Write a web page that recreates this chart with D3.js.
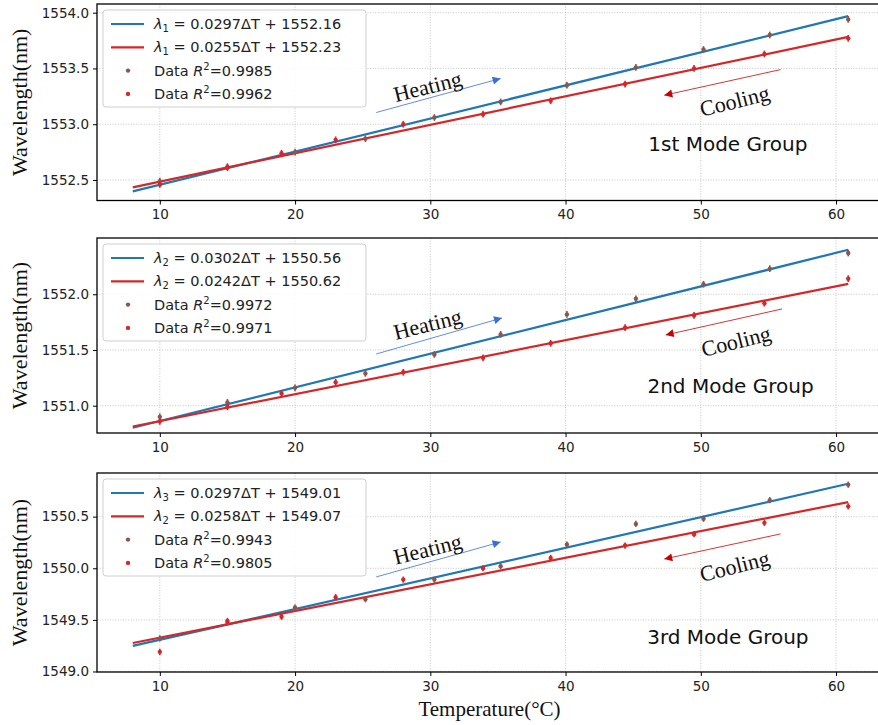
<!DOCTYPE html>
<html>
<head>
<meta charset="utf-8">
<script src="https://cdn.jsdelivr.net/npm/d3@7"></script>
<style>
  body { margin: 0; background: #fff; }
  svg { display: block; }
  .tick text { font-family: "DejaVu Sans", sans-serif; font-size: 13.5px; fill: #222; }
  .tick line { stroke: #000; }
  .domain { display: none; }
</style>
</head>
<body>
<div id="chart"></div>
<script>
// Figure size
var svgWidth = 878;
var svgHeight = 725;

// Temperatures (°C) of the heating and cooling runs
var heatTemp = [10, 15, 20, 25.2, 30.3, 35.2, 40.1, 45.2, 50.2, 55.1, 60.9];
var coolTemp = [10, 15, 19, 23, 28, 33.9, 38.9, 44.4, 49.5, 54.7, 60.9];

// Measured wavelengths (nm) per mode group
var heat1 = [1552.49, 1552.62, 1552.75, 1552.87, 1553.06, 1553.20, 1553.35, 1553.51, 1553.67, 1553.80, 1553.94];
var cool1 = [1552.46, 1552.61, 1552.74, 1552.86, 1553.00, 1553.09, 1553.21, 1553.36, 1553.50, 1553.63, 1553.77];
var heat2 = [1550.90, 1551.03, 1551.16, 1551.29, 1551.46, 1551.64, 1551.82, 1551.96, 1552.09, 1552.23, 1552.37];
var cool2 = [1550.86, 1550.99, 1551.11, 1551.21, 1551.30, 1551.43, 1551.56, 1551.70, 1551.81, 1551.92, 1552.14];
var heat3 = [1549.32, 1549.49, 1549.62, 1549.70, 1549.89, 1550.02, 1550.23, 1550.43, 1550.48, 1550.66, 1550.81];
var cool3 = [1549.19, 1549.48, 1549.53, 1549.72, 1549.89, 1550.00, 1550.10, 1550.22, 1550.33, 1550.44, 1550.60];
var errBar = 0.03;

// Linear fits (slope, intercept)
var heatSlope = [0.0297, 0.0302, 0.0297];
var heatIcpt = [1552.16, 1550.56, 1549.01];
var coolSlope = [0.0255, 0.0242, 0.0258];
var coolIcpt = [1552.23, 1550.62, 1549.07];
var fitRange = [8, 60.9];

// Legend texts
var lambdaSub = [["1", "1"], ["2", "2"], ["3", "2"]];
var r2Heat = ["0.9985", "0.9972", "0.9943"];
var r2Cool = ["0.9962", "0.9971", "0.9805"];
var groupNames = ["1st Mode Group", "2nd Mode Group", "3rd Mode Group"];

// Axis ranges and ticks
var xDomain = [5.355, 63.545];
var xTicks = [10, 20, 30, 40, 50, 60];
var yDomains = [[1552.316, 1554.078], [1550.755, 1552.505], [1548.995, 1550.923]];
var yTicks = [[1552.5, 1553.0, 1553.5, 1554.0], [1551.0, 1551.5, 1552.0], [1549.0, 1549.5, 1550.0, 1550.5]];

// Annotation positions in data coordinates: [x, y]
var heatArrow = [[[26.0, 1553.105], [35.2, 1553.41]], [[26.0, 1551.464], [35.3, 1551.787]], [[26.0, 1549.916], [35.2, 1550.255]]];
var coolArrow = [[[55.9, 1553.49], [47.3, 1553.26]], [[56.0, 1551.868], [47.4, 1551.635]], [[55.9, 1550.333], [47.3, 1550.09]]];
var heatLabel = [[29.8, 1553.34], [29.8, 1551.733], [29.8, 1550.187]];
var coolLabel = [[52.5, 1553.21], [52.6, 1551.58], [52.5, 1550.023]];
var groupLabel = [[52.0, 1552.82], [52.2, 1551.177], [52.0, 1549.335]];

// Panel placement
var panelLeft = 97;
var panelRight = 884;
var panels = [{top: 4, bottom: 200.5}, {top: 238, bottom: 433}, {top: 473, bottom: 672}];

var blue = "#1f77b4", red = "#d62728", brown = "#8c564b";

var svg = d3.select("#chart")
  .append("svg")
  .attr("width", svgWidth)
  .attr("height", svgHeight);

var defs = svg.append("defs");
[["headBlue", "#3a6fd8"], ["headRed", "#c80000"]].forEach(function(h) {
  defs.append("marker")
    .attr("id", h[0])
    .attr("viewBox", "0 0 10 10")
    .attr("refX", 10).attr("refY", 5)
    .attr("markerUnits", "userSpaceOnUse")
    .attr("markerWidth", 11).attr("markerHeight", 8)
    .attr("orient", "auto")
    .append("path")
    .attr("d", "M0,0 L10,5 L0,10 z")
    .attr("fill", h[1]);
});

var xScale = d3.scaleLinear().domain(xDomain).range([panelLeft, panelRight]);

var heatAll = [heat1, heat2, heat3];
var coolAll = [cool1, cool2, cool3];

panels.forEach(function(p, i) {
  var yScale = d3.scaleLinear().domain(yDomains[i]).range([p.bottom, p.top]);
  var g = svg.append("g");

  // grid
  g.selectAll(".gx").data(xTicks).enter().append("line")
    .attr("x1", d => xScale(d)).attr("x2", d => xScale(d))
    .attr("y1", p.top).attr("y2", p.bottom)
    .attr("stroke", "#b8b8b8").attr("stroke-width", 0.8).attr("stroke-dasharray", "1,1.6");
  g.selectAll(".gy").data(yTicks[i]).enter().append("line")
    .attr("x1", panelLeft).attr("x2", panelRight)
    .attr("y1", d => yScale(d)).attr("y2", d => yScale(d))
    .attr("stroke", "#b8b8b8").attr("stroke-width", 0.8).attr("stroke-dasharray", "1,1.6");

  // axes
  g.append("g")
    .attr("transform", `translate(0, ${p.bottom})`)
    .call(d3.axisBottom(xScale).tickValues(xTicks).tickSize(4).tickPadding(5).tickFormat(d3.format("d")));
  g.append("g")
    .attr("transform", `translate(${panelLeft}, 0)`)
    .call(d3.axisLeft(yScale).tickValues(yTicks[i]).tickSize(4).tickPadding(4).tickFormat(d3.format(".1f")));

  // fit lines
  var fits = [[heatSlope[i], heatIcpt[i], blue], [coolSlope[i], coolIcpt[i], red]];
  fits.forEach(function(f) {
    g.append("path")
      .datum(fitRange)
      .attr("d", d3.line().x(t => xScale(t)).y(t => yScale(f[0] * t + f[1])))
      .attr("stroke", f[2]).attr("stroke-width", 2.2).attr("fill", "none");
  });

  // data points with error bars
  var sets = [[heatTemp, heatAll[i], brown], [coolTemp, coolAll[i], red]];
  sets.forEach(function(s) {
    var pts = s[0].map((t, k) => ({t: t, v: s[1][k]}));
    var ng = g.append("g").selectAll("g").data(pts).enter().append("g");
    ng.append("line")
      .attr("x1", d => xScale(d.t)).attr("x2", d => xScale(d.t))
      .attr("y1", d => yScale(d.v - errBar)).attr("y2", d => yScale(d.v + errBar))
      .attr("stroke", s[2]).attr("stroke-width", 1.6);
    ng.append("circle")
      .attr("cx", d => xScale(d.t)).attr("cy", d => yScale(d.v))
      .attr("r", 2.2).attr("fill", s[2]);
  });

  // annotations
  var ha = heatArrow[i], ca = coolArrow[i];
  g.append("line")
    .attr("x1", xScale(ha[0][0])).attr("y1", yScale(ha[0][1]))
    .attr("x2", xScale(ha[1][0])).attr("y2", yScale(ha[1][1]))
    .attr("stroke", "#3a6fd8").attr("stroke-width", 0.8).attr("marker-end", "url(#headBlue)");
  g.append("line")
    .attr("x1", xScale(ca[0][0])).attr("y1", yScale(ca[0][1]))
    .attr("x2", xScale(ca[1][0])).attr("y2", yScale(ca[1][1]))
    .attr("stroke", "#d00000").attr("stroke-width", 0.8).attr("marker-end", "url(#headRed)");

  [[heatLabel[i], "Heating"], [coolLabel[i], "Cooling"]].forEach(function(a) {
    var ax = xScale(a[0][0]), ay = yScale(a[0][1]);
    g.append("text")
      .attr("transform", `translate(${ax},${ay}) rotate(-14)`)
      .attr("text-anchor", "middle").attr("dy", "0.35em")
      .attr("font-family", "'Liberation Serif', 'Times New Roman', serif")
      .attr("font-size", "22px").attr("fill", "#111")
      .text(a[1]);
  });

  g.append("text")
    .attr("x", xScale(groupLabel[i][0])).attr("y", yScale(groupLabel[i][1]))
    .attr("text-anchor", "middle").attr("dy", "0.35em")
    .attr("font-family", "'DejaVu Sans', sans-serif")
    .attr("font-size", "20px").attr("fill", "#111")
    .text(groupNames[i]);

  // frame
  g.append("rect")
    .attr("x", panelLeft).attr("y", p.top)
    .attr("width", panelRight - panelLeft).attr("height", p.bottom - p.top)
    .attr("fill", "none").attr("stroke", "#000").attr("stroke-width", 1.3);

  // legend
  var lx = panelLeft + 6, ly = p.top + 6;
  var lg = g.append("g").attr("transform", `translate(${lx},${ly})`);
  lg.append("rect")
    .attr("width", 263).attr("height", 97).attr("rx", 3)
    .attr("fill", "#fff").attr("fill-opacity", 0.85)
    .attr("stroke", "#cfcfcf").attr("stroke-width", 1);
  var rows = [0, 1, 2, 3].map(r => 14 + r * 23.3);
  [blue, red].forEach(function(c, r) {
    lg.append("line").attr("x1", 8).attr("x2", 41).attr("y1", rows[r]).attr("y2", rows[r])
      .attr("stroke", c).attr("stroke-width", 2.2);
    var t = lg.append("text").attr("x", 51).attr("y", rows[r]).attr("dy", "0.35em")
      .attr("font-family", "'DejaVu Sans', sans-serif").attr("font-size", "14.5px").attr("fill", "#222");
    t.append("tspan").attr("font-style", "italic").text("λ");
    t.append("tspan").attr("font-size", "10px").attr("dy", "0.3em").text(lambdaSub[i][r]);
    var eq = r === 0
      ? ` = ${heatSlope[i].toFixed(4)}ΔT + ${heatIcpt[i].toFixed(2)}`
      : ` = ${coolSlope[i].toFixed(4)}ΔT + ${coolIcpt[i].toFixed(2)}`;
    t.append("tspan").attr("dy", "-0.2em").text(eq);
  });
  [[brown, r2Heat[i]], [red, r2Cool[i]]].forEach(function(d, k) {
    var r = k + 2;
    lg.append("circle").attr("cx", 25).attr("cy", rows[r]).attr("r", 2.2).attr("fill", d[0]);
    var t = lg.append("text").attr("x", 51).attr("y", rows[r]).attr("dy", "0.35em")
      .attr("font-family", "'DejaVu Sans', sans-serif").attr("font-size", "14.5px").attr("fill", "#222");
    t.append("tspan").text("Data ");
    t.append("tspan").attr("font-style", "italic").text("R");
    t.append("tspan").attr("font-size", "10px").attr("dy", "-0.55em").text("2");
    t.append("tspan").attr("dy", "0.38em").text("=" + d[1]);
  });

  // y label
  svg.append("text")
    .attr("transform", `translate(${27},${(p.top + p.bottom) / 2}) rotate(-90)`)
    .attr("text-anchor", "middle")
    .attr("font-family", "'Liberation Serif', 'Times New Roman', serif")
    .attr("font-size", "22px").attr("fill", "#111")
    .text("Wavelength(nm)");
});

// x label
svg.append("text")
  .attr("x", (panelLeft + panelRight) / 2 - 1)
  .attr("y", 716)
  .attr("text-anchor", "middle")
  .attr("font-family", "'Liberation Serif', 'Times New Roman', serif")
  .attr("font-size", "21px").attr("fill", "#111")
  .text("Temperature(°C)");
</script>
</body>
</html>
